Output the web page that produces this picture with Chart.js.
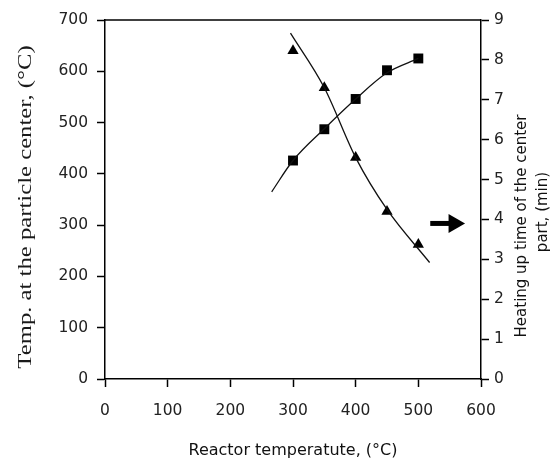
<!DOCTYPE html>
<html>
<head>
<meta charset="utf-8">
<script src="https://cdn.jsdelivr.net/npm/chart.js@4/dist/chart.umd.min.js"></script>
<style>
html,body{margin:0;padding:0;background:#fff;}
#wrap{width:553px;height:464px;position:relative;}
</style>
</head>
<body>
<div id="wrap"><canvas id="c" width="553" height="464"></canvas></div>
<script>
// Data
const reactorTemps = [300, 350, 400, 450, 500];
const centerTemps = [426, 487, 546, 602, 625];          // squares, left axis (°C)
const heatingTimes = [8.23, 7.30, 5.55, 4.20, 3.37];    // triangles, right axis (min)

// fitted trend curves
const centerFitX = [266, 300, 350, 400, 450, 500];
const centerFitY = [365, 426, 488, 546, 597, 625];
const timeFitX = [296, 350, 400, 450, 518];
const timeFitY = [8.67, 7.3, 5.55, 4.25, 2.92];

// arrow annotation pointing to the right axis
const arrowX = [519, 557];
const arrowY = [3.9, 3.9];

const xTicks = [0, 100, 200, 300, 400, 500, 600];
const yLeftTicks = [0, 100, 200, 300, 400, 500, 600, 700];
const yRightTicks = [0, 1, 2, 3, 4, 5, 6, 7, 8, 9];

const xTitle = 'Reactor temperatute, (°C)';
const yLeftTitle = 'Temp. at the particle center, (°C)';
const yRightTitle = ['Heating up time of the center', 'part, (min)'];

const toPts = (xs, ys) => xs.map((x, i) => ({x: x, y: ys[i]}));

const frame = {
  id: 'frame',
  afterDraw(chart) {
    const {ctx, chartArea} = chart;
    ctx.save();
    ctx.strokeStyle = '#000';
    ctx.lineWidth = 1.5;
    ctx.beginPath();
    ctx.moveTo(chartArea.left, chartArea.top);
    ctx.lineTo(chartArea.right, chartArea.top);
    ctx.stroke();
    ctx.textAlign = 'center';
    ctx.textBaseline = 'middle';
    // left axis title (serif), reading bottom-to-top
    ctx.fillStyle = '#1a1a1a';
    ctx.font = '19px "Liberation Serif", "Times New Roman", serif';
    ctx.save();
    ctx.translate(26, 207);
    ctx.rotate(-Math.PI / 2);
    ctx.scale(1.3, 1);
    ctx.fillText(yLeftTitle, 0, 0);
    ctx.restore();
    // right axis title, reading bottom-to-top
    ctx.fillStyle = '#111';
    ctx.font = '15px "DejaVu Sans", sans-serif';
    const pos = [[522, 226], [543, 212]];
    yRightTitle.forEach((t, i) => {
      ctx.save();
      ctx.translate(pos[i][0], pos[i][1]);
      ctx.rotate(-Math.PI / 2);
      ctx.fillText(t, 0, 0);
      ctx.restore();
    });
    ctx.restore();
  }
};

const tickFont = {family: '"DejaVu Sans", sans-serif', size: 15.5};

new Chart(document.getElementById('c'), {
  type: 'scatter',
  data: {
    datasets: [
      {
        data: toPts(centerFitX, centerFitY), yAxisID: 'y', showLine: true,
        borderColor: '#111', borderWidth: 1.3, pointRadius: 0, cubicInterpolationMode: 'monotone'
      },
      {
        data: toPts(timeFitX, timeFitY), yAxisID: 'y2', showLine: true,
        borderColor: '#111', borderWidth: 1.3, pointRadius: 0, cubicInterpolationMode: 'monotone'
      },
      {
        data: toPts(reactorTemps, centerTemps), yAxisID: 'y',
        pointStyle: 'rect', pointRadius: 7, backgroundColor: '#000', borderColor: '#000', borderWidth: 0
      },
      {
        data: toPts(reactorTemps, heatingTimes), yAxisID: 'y2',
        pointStyle: 'triangle', pointRadius: 6.5, backgroundColor: '#000', borderColor: '#000', borderWidth: 0
      },
      {
        data: toPts(arrowX, arrowY), yAxisID: 'y2', showLine: true,
        borderColor: '#000', borderWidth: 5, backgroundColor: '#000',
        pointStyle: 'triangle', pointRotation: 90, pointRadius: [0, 11], borderCapStyle: 'butt',
        pointBorderWidth: 0
      }
    ]
  },
  options: {
    responsive: false,
    animation: false,
    layout: {padding: {top: 20, left: 0, right: 0, bottom: 0}},
    plugins: {legend: {display: false}, tooltip: {enabled: false}},
    scales: {
      x: {
        type: 'linear', position: 'bottom', min: 0, max: 600,
        afterBuildTicks: s => { s.ticks = xTicks.map(v => ({value: v})); },
        afterFit: s => { s.height = 85; },
        grid: {drawOnChartArea: false, tickLength: 8, tickColor: '#000', tickWidth: 1.5},
        border: {color: '#000', width: 1.5},
        ticks: {color: '#222', font: tickFont, padding: 15, maxRotation: 0},
        title: {display: true, text: xTitle, color: '#111',
          font: {family: '"DejaVu Sans", sans-serif', size: 16}, padding: {top: 0, bottom: 4}}
      },
      y: {
        type: 'linear', position: 'left', min: 0, max: 700,
        afterBuildTicks: s => { s.ticks = yLeftTicks.map(v => ({value: v})); },
        afterFit: s => { s.width = 105; },
        grid: {drawOnChartArea: false, tickLength: 8, tickColor: '#000', tickWidth: 1.5},
        border: {color: '#000', width: 1.5},
        ticks: {color: '#222', font: tickFont, padding: 9}
      },
      y2: {
        type: 'linear', position: 'right', min: 0, max: 9,
        afterBuildTicks: s => { s.ticks = yRightTicks.map(v => ({value: v})); },
        afterFit: s => { s.width = 72; },
        grid: {drawOnChartArea: false, tickLength: 8, tickColor: '#000', tickWidth: 1.5},
        border: {color: '#000', width: 1.5},
        ticks: {color: '#222', font: tickFont, padding: 5}
      }
    }
  },
  plugins: [frame]
});
</script>
</body>
</html>
